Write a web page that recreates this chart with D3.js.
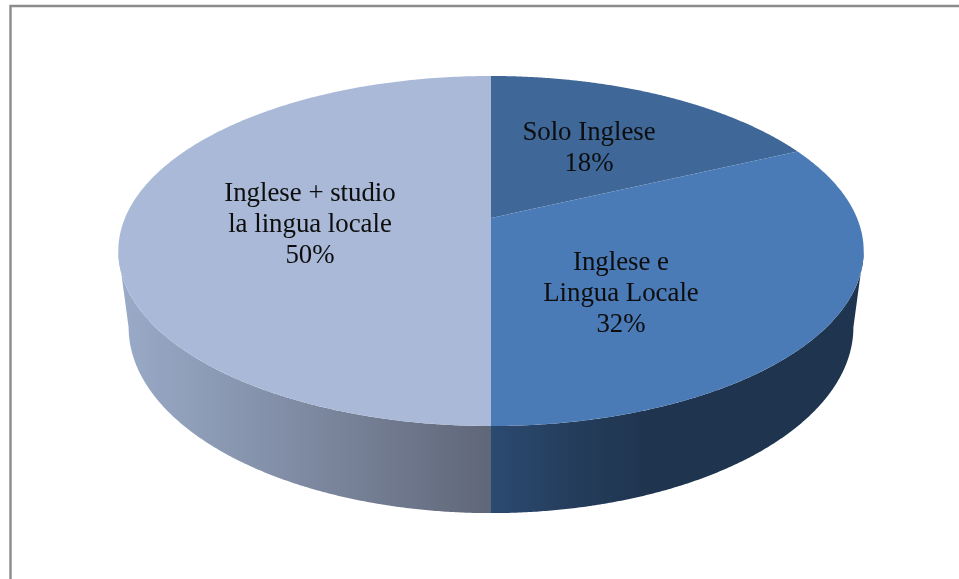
<!DOCTYPE html>
<html>
<head>
<meta charset="utf-8">
<script src="https://cdn.jsdelivr.net/npm/d3@7/dist/d3.min.js"></script>
<style>
html,body{margin:0;padding:0;background:#fff;overflow:hidden}
svg{display:block}
text{font-family:"Liberation Serif","Times New Roman",serif;fill:#0b0b0b}
</style>
</head>
<body>
<svg id="c" width="959" height="579"></svg>
<script>
const categories = ["Solo Inglese", "Inglese e|Lingua Locale", "Inglese + studio|la lingua locale"];
const percents = [18, 32, 50];
const topColors = ["#3f6899", "#4b7bb7", "#a9b9d7"];
const labelSpots = [[589, 139.5], [621, 270], [310, 200.5]];

const W = 959, H = 579;
const svg = d3.select("#c");
const defs = svg.append("defs");

function gradient(id, stops) {
  const g = defs.append("linearGradient").attr("id", id)
    .attr("gradientUnits", "userSpaceOnUse")
    .attr("x1", stops[0][0]).attr("x2", stops[stops.length - 1][0]).attr("y1", 0).attr("y2", 0);
  const x0 = stops[0][0], x1 = stops[stops.length - 1][0];
  stops.forEach(s => g.append("stop").attr("offset", (s[0] - x0) / (x1 - x0)).attr("stop-color", s[1]));
}
gradient("sideLeft", [[118, "#9aabc8"], [300, "#7f8ba3"], [491, "#5f6678"]]);
gradient("sideRight", [[491, "#2b4a70"], [560, "#263f5f"], [650, "#1f344e"], [863, "#1f344e"]]);
defs.append("filter").attr("id", "soft")
  .attr("x", "-5%").attr("y", "-5%").attr("width", "110%").attr("height", "110%")
  .append("feGaussianBlur").attr("stdDeviation", 0.35);

svg.append("path")
  .attr("d", `M10.5,579V6H${W}`)
  .attr("fill", "none").attr("stroke", "#8c8c8c").attr("stroke-width", 2.4);

const pie = d3.pie().sort(null).value(d => d)(percents);

// Perspective projection of a unit disc
const persp = -0.1886;
const project = (a, cx, cy, cu, cv) => {
  const u = Math.sin(a), v = -Math.cos(a), d = 1 + persp * v;
  return [cx + cu * u / d, cy + cv * v / d];
};
const topFace = a => project(a, 491, 218, 366, 168.8);
const botFace = a => project(a, 491, 292, 355.9, 179.4);

const line = d3.line();
const angles = (a0, a1) => d3.range(0, 241).map(i => a0 + (a1 - a0) * i / 240);
const silhouette = Math.PI / 2 + 0.19;

// Side walls
const wall = (a0, a1, fill) => svg.append("path")
  .attr("d", line(angles(a0, a1).map(topFace).concat(angles(a1, a0).map(botFace))) + "Z")
  .attr("fill", fill);
wall(silhouette, pie[1].endAngle, "url(#sideRight)");
wall(pie[2].startAngle, 2 * Math.PI - silhouette, "url(#sideLeft)");

// Top faces
svg.selectAll("path.slice").data(pie).join("path")
  .attr("class", "slice")
  .attr("d", d => line([[491, 218]].concat(angles(d.startAngle, d.endAngle).map(topFace))) + "Z")
  .attr("fill", (d, i) => topColors[i]);

// Labels
categories.forEach((c, i) => {
  const rows = c.split("|").concat([percents[i] + "%"]);
  const t = svg.append("text")
    .attr("text-anchor", "middle")
    .attr("font-size", 26.8)
    .attr("filter", "url(#soft)");
  rows.forEach((r, j) => t.append("tspan")
    .attr("x", labelSpots[i][0])
    .attr("y", labelSpots[i][1] + j * 31)
    .text(r));
});
</script>
</body>
</html>
